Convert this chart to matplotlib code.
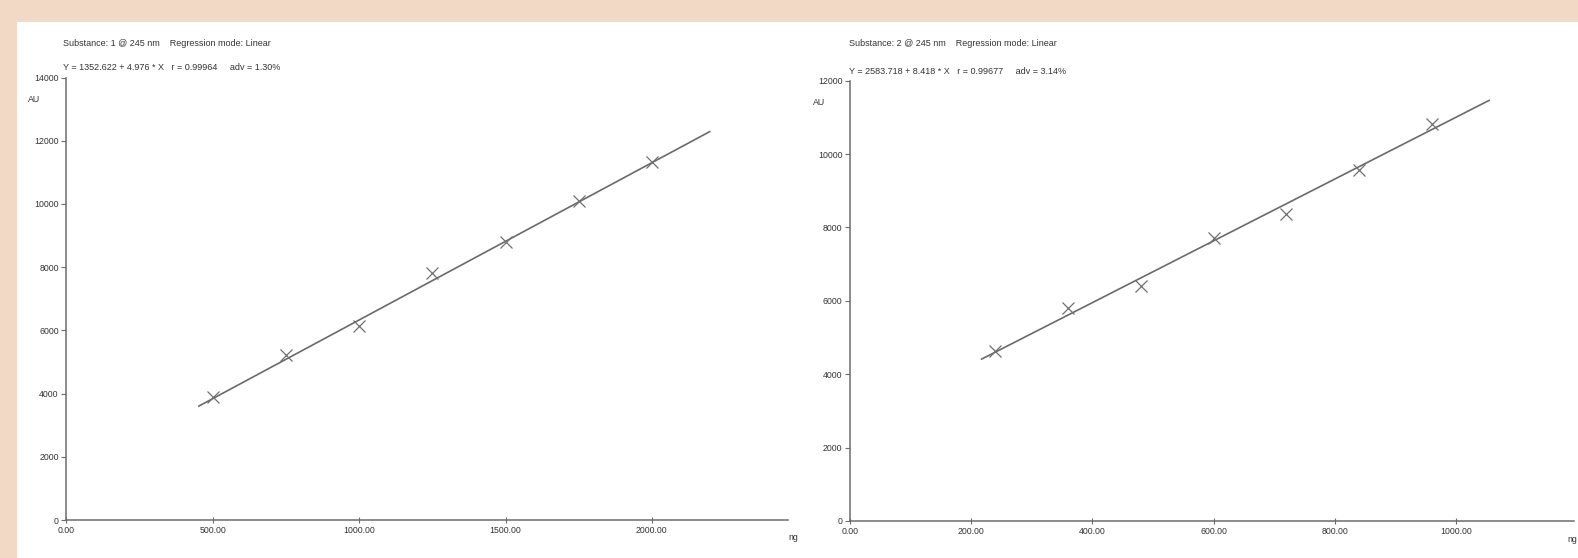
import matplotlib
matplotlib.use("Agg")
import matplotlib.pyplot as plt
from matplotlib.patches import Rectangle
import numpy as np

# Calibration data, substance 1 (amount in ng vs. peak area in AU)
amount_1 = [500, 750, 1000, 1250, 1500, 1750, 2000]
area_1 = [3900, 5220, 6150, 7800, 8790, 10090, 11320]
intercept_1, slope_1 = 1352.622, 4.976
title_1 = "Substance: 1 @ 245 nm    Regression mode: Linear"
stats_1 = "Y = 1352.622 + 4.976 * X   r = 0.99964     adv = 1.30%"
xticks_1 = [0, 500, 1000, 1500, 2000]
yticks_1 = [0, 2000, 4000, 6000, 8000, 10000, 12000, 14000]

# Calibration data, substance 2
amount_2 = [240, 360, 480, 600, 720, 840, 960]
area_2 = [4620, 5800, 6400, 7700, 8380, 9560, 10820]
intercept_2, slope_2 = 2583.718, 8.418
title_2 = "Substance: 2 @ 245 nm    Regression mode: Linear"
stats_2 = "Y = 2583.718 + 8.418 * X   r = 0.99677     adv = 3.14%"
xticks_2 = [0, 200, 400, 600, 800, 1000]
yticks_2 = [0, 2000, 4000, 6000, 8000, 10000, 12000]

W, H = 1578, 558
plt.rcParams["font.family"] = ["Liberation Sans", "DejaVu Sans"]

fig = plt.figure(figsize=(W / 100, H / 100), dpi=100)
fig.patch.set_facecolor("#F2D9C6")
fig.add_artist(Rectangle((17 / W, 0), 1 - 17 / W, 1 - 22 / H,
                         transform=fig.transFigure, facecolor="white",
                         edgecolor="none", zorder=0))

TXT = "#333333"
AX = "#6c6c6c"
FS_HEAD = 6.5
FS_TICK = 6.3


def px_axes(left, right, bottom, top):
    return fig.add_axes([left / W, 1 - bottom / H, (right - left) / W, (bottom - top) / H])


def calib_panel(ax, x, y, b0, b1, xmax, ymax, xticks, yticks):
    ax.set_facecolor("none")
    xs = np.array([0.9 * min(x), 1.1 * max(x)])
    ax.plot(xs, b0 + b1 * xs, color="#6a6a6a", lw=1.2, solid_capstyle="butt", zorder=3)
    ax.plot(x, y, linestyle="none", marker="x", ms=8, mew=0.9, color="#707070", zorder=4)
    ax.set_xlim(0, xmax)
    ax.set_ylim(0, ymax)
    ax.set_xticks(xticks)
    ax.set_xticklabels([f"{v:.2f}" for v in xticks])
    ax.set_yticks(yticks)
    ax.set_yticklabels([f"{v:d}" for v in yticks])
    for s in ("top", "right"):
        ax.spines[s].set_visible(False)
    for s in ("left", "bottom"):
        ax.spines[s].set_color(AX)
        ax.spines[s].set_linewidth(1.1)
    ax.tick_params(axis="y", direction="out", length=3.5, width=0.8, color=AX,
                   labelsize=FS_TICK, labelcolor=TXT, pad=2)
    ax.tick_params(axis="x", direction="inout", length=4, width=0.8, color=AX,
                   labelsize=FS_TICK, labelcolor=TXT, pad=2.5)


ax1 = px_axes(66.4, 788, 520, 77.5)
calib_panel(ax1, amount_1, area_1, intercept_1, slope_1, 2465, 14000, xticks_1, yticks_1)

ax2 = px_axes(850, 1574, 521, 80.7)
calib_panel(ax2, amount_2, area_2, intercept_2, slope_2, 1195, 12000, xticks_2, yticks_2)

# Headers, axis unit labels
fig.text(63 / W, 1 - 43 / H, title_1, fontsize=FS_HEAD, color=TXT, va="center", ha="left")
fig.text(63 / W, 1 - 67 / H, stats_1, fontsize=FS_HEAD, color=TXT, va="center", ha="left")
fig.text(849 / W, 1 - 44 / H, title_2, fontsize=FS_HEAD, color=TXT, va="center", ha="left")
fig.text(849 / W, 1 - 71 / H, stats_2, fontsize=FS_HEAD, color=TXT, va="center", ha="left")

fig.text(28 / W, 1 - 100 / H, "AU", fontsize=FS_TICK, color=TXT, va="center", ha="left")
fig.text(813 / W, 1 - 102 / H, "AU", fontsize=FS_TICK, color=TXT, va="center", ha="left")
fig.text(788 / W, 1 - 538 / H, "ng", fontsize=FS_TICK, color=TXT, va="center", ha="left")
fig.text(1577 / W, 1 - 540 / H, "ng", fontsize=FS_TICK, color=TXT, va="center", ha="right")

fig.savefig("out.png", dpi=100, facecolor=fig.get_facecolor())
